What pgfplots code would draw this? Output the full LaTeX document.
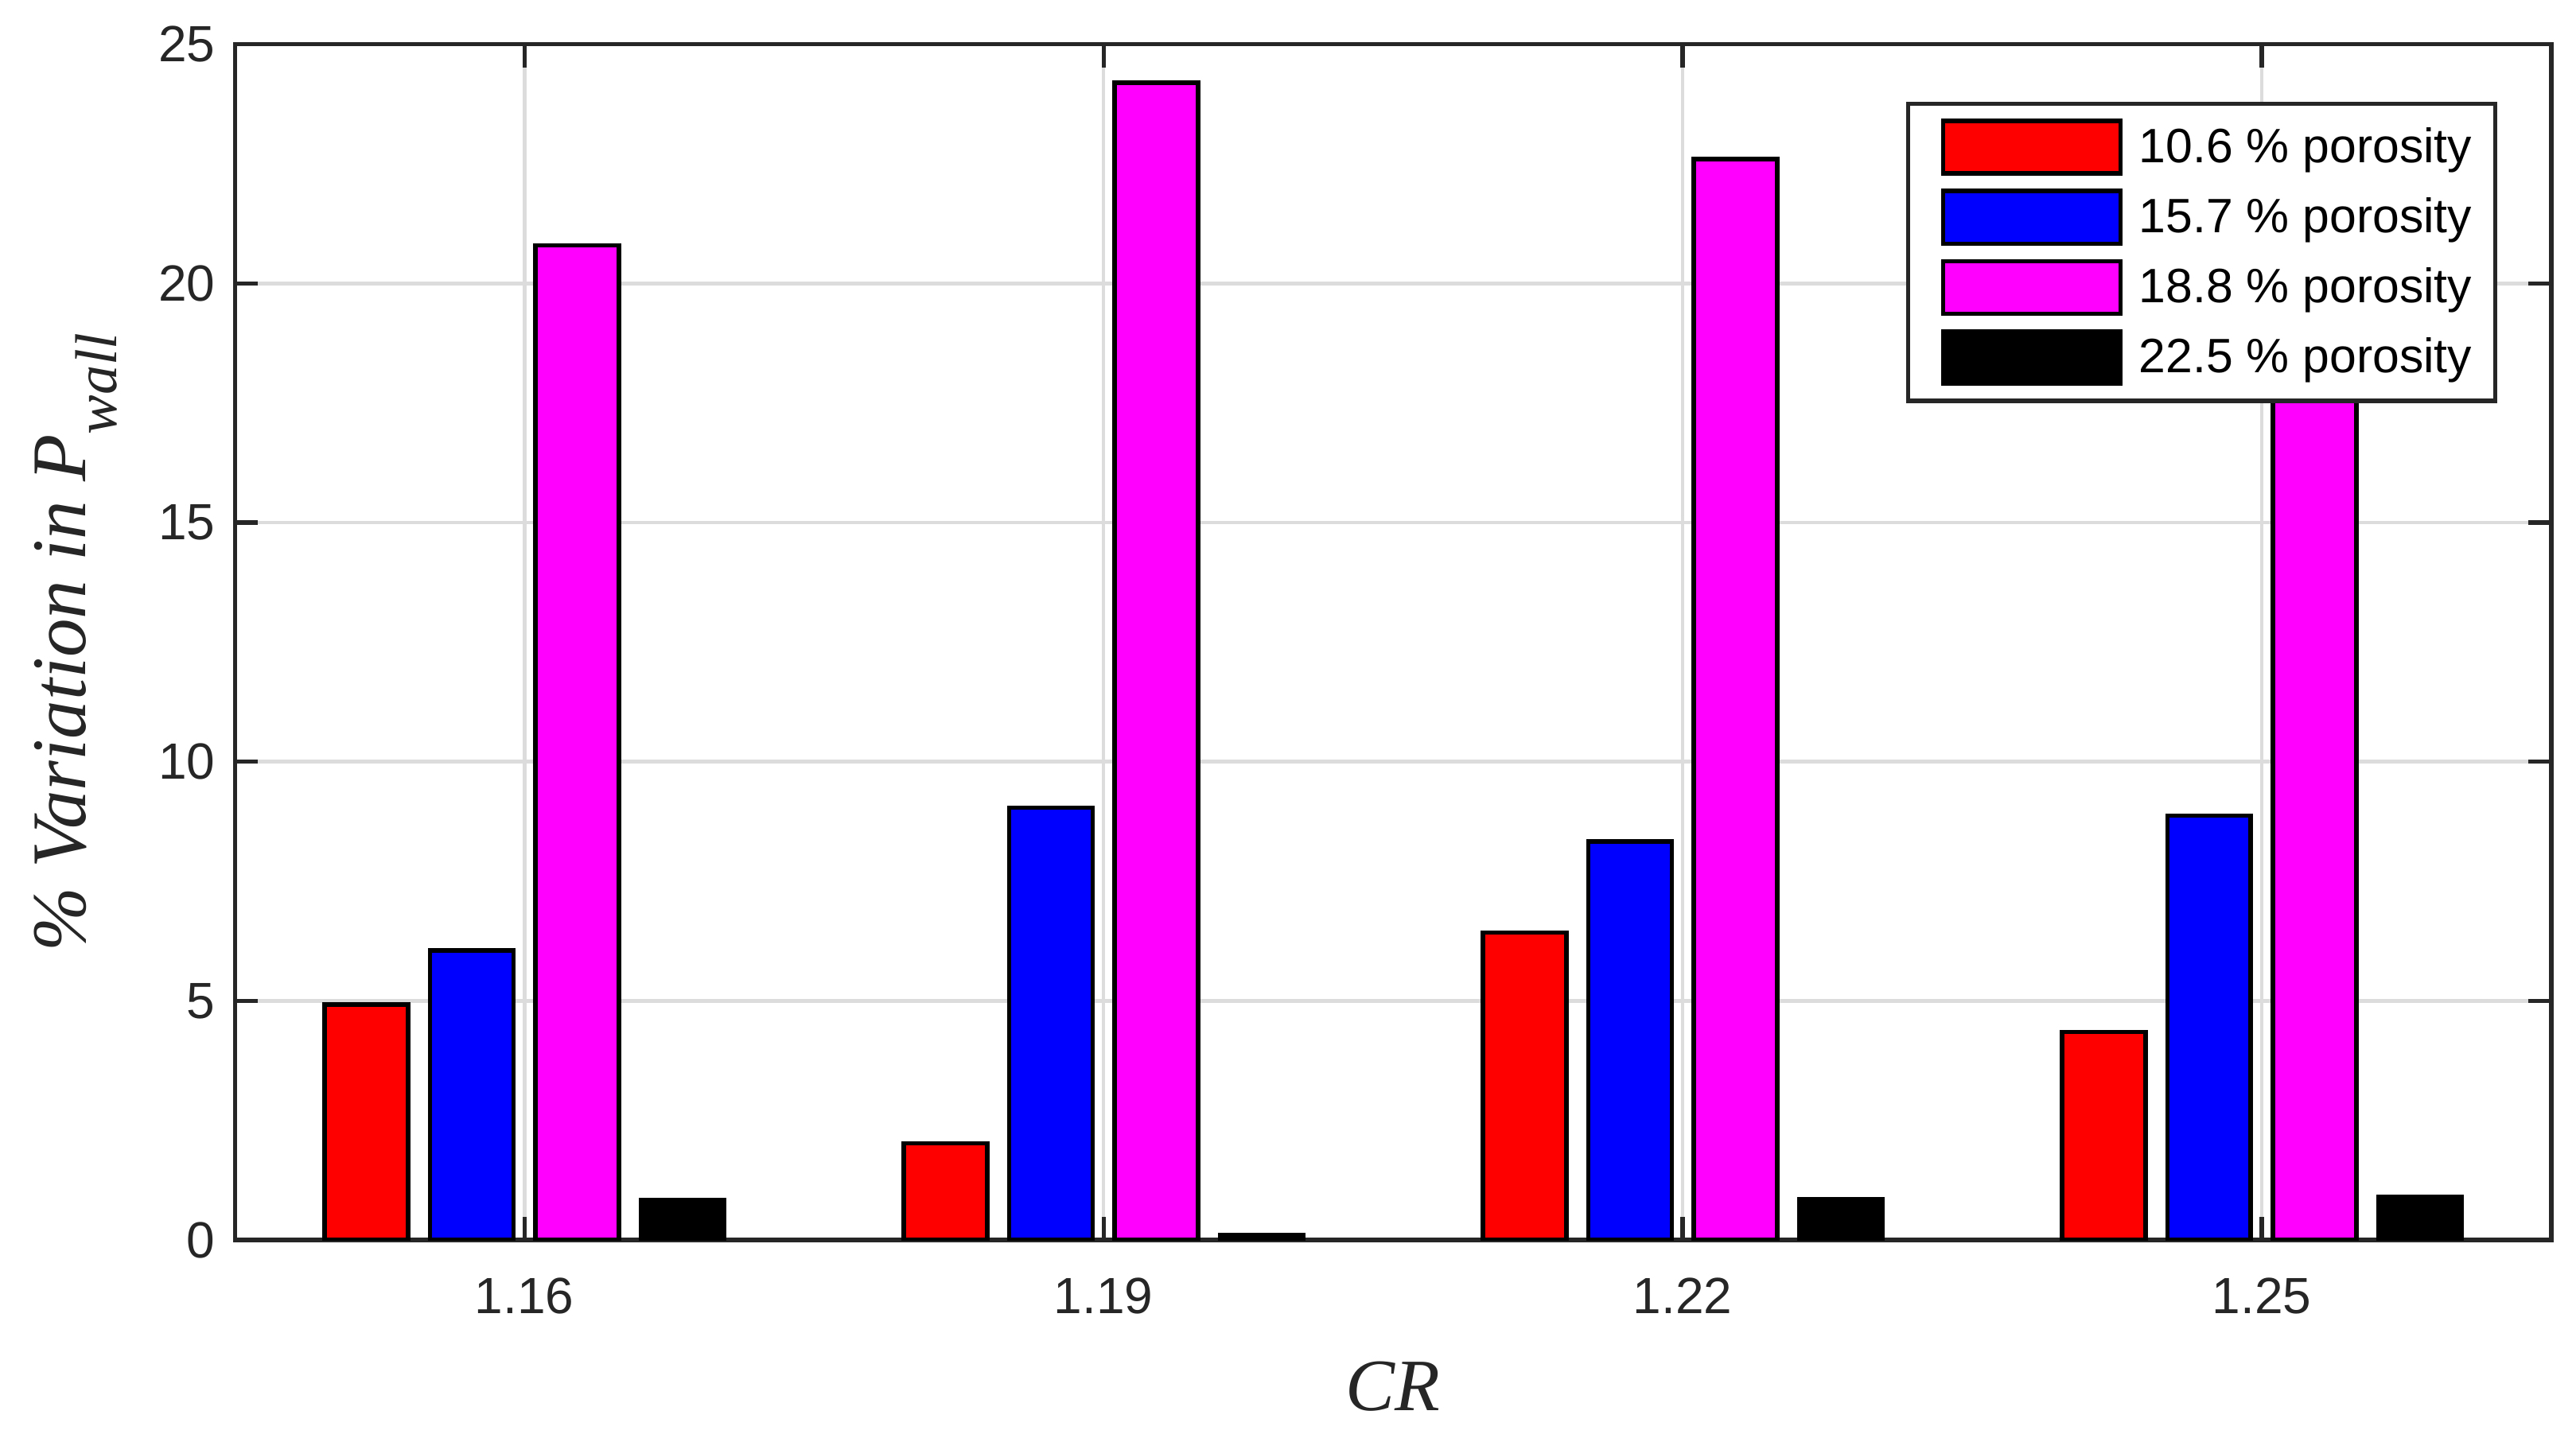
\documentclass[border=0pt]{standalone}
\usepackage{fontspec}
\usepackage{pgfplots}
\pgfplotsset{compat=1.18}
\setmainfont{Liberation Serif}
\newfontfamily\sansf{Liberation Sans}
\definecolor{axgray}{HTML}{262626}
\definecolor{gridgray}{HTML}{DCDCDC}
\definecolor{mred}{rgb}{1,0,0}
\definecolor{mblue}{rgb}{0,0,1}
\definecolor{mmag}{rgb}{1,0,1}
\pgfplotsset{mylegend/.style={legend image code/.code={\path (-5pt,0pt); \path (57pt,0pt); \draw[##1] (0pt,-8pt) rectangle (54pt,8pt);}}}
\begin{document}
\begin{tikzpicture}
\useasboundingbox (-71.5pt,-60.26pt) rectangle (712.5pt,377.5pt);
\begin{axis}[
  at={(0,0)}, anchor=south west,
  scale only axis, width=705pt, height=364pt,
  xmin=0.5, xmax=4.5, ymin=0, ymax=25,
  xtick={1,2,3,4},
  xticklabels={\mbox{1.16},\mbox{1.19},\mbox{1.22},\mbox{1.25}},
  ytick={0,5,10,15,20,25},
  yticklabels={\mbox{0},\mbox{5},\mbox{10},\mbox{15},\mbox{20},\mbox{25}},
  tick align=inside, major tick length=7pt,
  grid=major, major grid style={gridgray, line width=1.1pt},
  axis line style={axgray, line width=1.3pt},
  every tick/.style={axgray, line width=1.3pt},
  ticklabel style={font=\sansf\fontsize{15.5}{18}\selectfont, text=axgray},
  yticklabel style={xshift=-2.5pt},
  xticklabel style={yshift=-8pt},
  xlabel={\textit{CR}},
  xlabel style={at={(axis description cs:0.5,-0.14286)}, anchor=base, font=\fontsize{22.5}{26}\selectfont, text=axgray},
  ylabel={\textit{\% Variation in P\raisebox{-9.5pt}{\fontsize{18}{19}\selectfont wall}}},
  ylabel style={at={(axis description cs:-0.06454,0.5)}, anchor=base, rotate=0, font=\fontsize{23.5}{27}\selectfont, text=axgray},
  legend style={at={(axis description cs:1,1)}, anchor=north east, xshift=-16.5pt, yshift=-17.5pt,
    draw=axgray, line width=1.3pt, font=\sansf\fontsize{14.7}{17}\selectfont,
    row sep=4pt, inner xsep=5pt, inner ysep=4.5pt, cells={anchor=west}},
  legend cell align=left,
]
\addplot[ybar, bar width=0.144, bar shift=-0.273, fill=mred, draw=black, line width=1.35pt, mylegend]
  coordinates {(1,4.92) (2,2.02) (3,6.43) (4,4.35)};
\addplot[ybar, bar width=0.144, bar shift=-0.091, fill=mblue, draw=black, line width=1.35pt, mylegend]
  coordinates {(1,6.05) (2,9.04) (3,8.33) (4,8.87)};
\addplot[ybar, bar width=0.144, bar shift=0.091, fill=mmag, draw=black, line width=1.35pt, mylegend]
  coordinates {(1,20.8) (2,24.2) (3,22.6) (4,21.8)};
\addplot[ybar, bar width=0.144, bar shift=0.273, fill=black, draw=black, line width=1.35pt, mylegend]
  coordinates {(1,0.84) (2,0.11) (3,0.85) (4,0.91)};
\legend{10.6 \% porosity, 15.7 \% porosity, 18.8 \% porosity, 22.5 \% porosity}
\end{axis}
\end{tikzpicture}
\end{document}
